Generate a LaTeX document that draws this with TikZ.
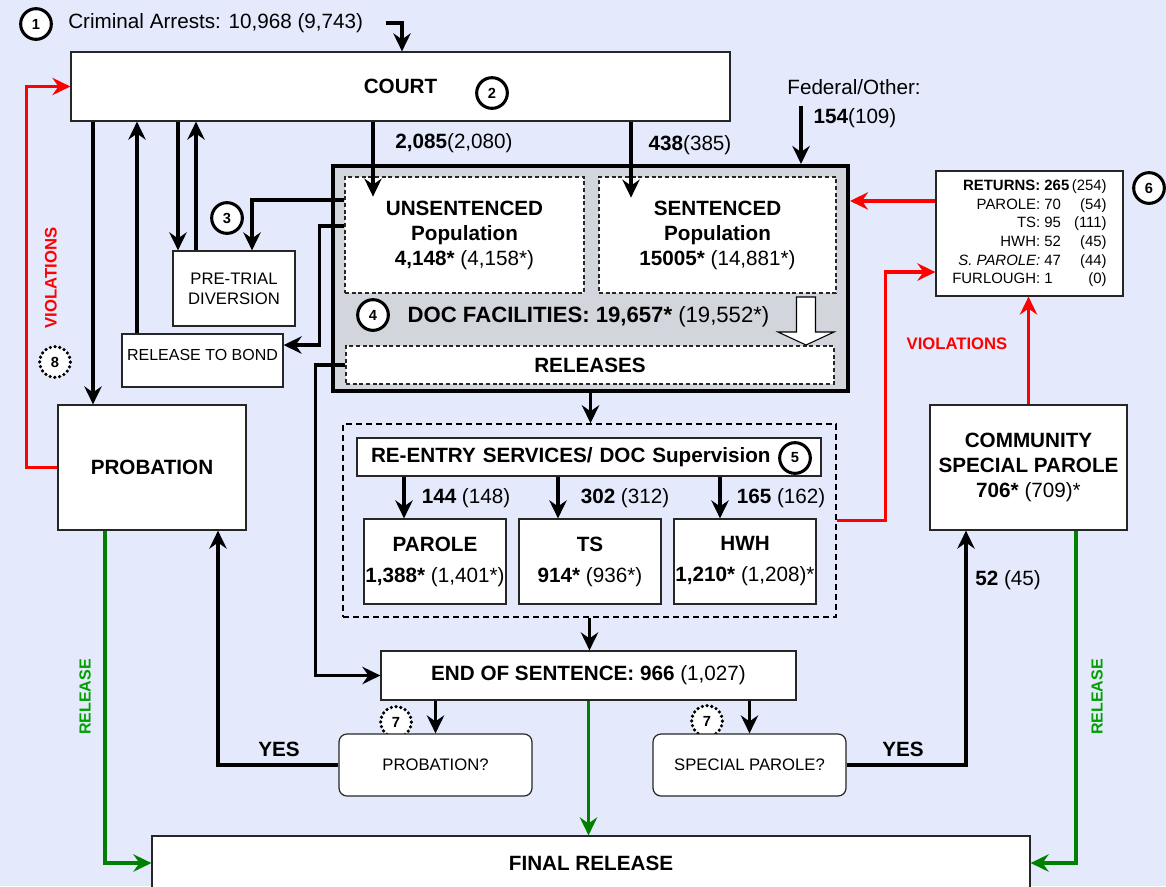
\documentclass[tikz,border=0pt]{standalone}
\usepackage{fontspec}
\setmainfont{Liberation Sans}
\usetikzlibrary{arrows.meta}
\definecolor{bg}{RGB}{228,233,252}
\definecolor{docgray}{RGB}{211,213,220}
\definecolor{violred}{RGB}{255,0,0}
\definecolor{relgreen}{RGB}{0,128,0}
\definecolor{reltext}{RGB}{0,160,0}
\newcommand{\prior}[1]{{\mdseries #1}}
\begin{document}
\begin{tikzpicture}[x=.75pt,y=-.75pt,>={Stealth[length=13.5pt,width=13pt,inset=4.5pt]},
	box/.style={draw=black!85,line width=.9pt,fill=white,inner sep=0pt},
	dbox/.style={box,dash pattern=on 3pt off 2pt},
	big/.style={font=\fontsize{15.5}{18.75}\selectfont\bfseries,align=center},
	small/.style={font=\fontsize{12.5}{15}\selectfont,align=center},
	num/.style={circle,draw,line width=2.3pt,fill=white,minimum size=23pt,inner sep=0pt,font=\fontsize{11}{12}\selectfont\bfseries},
	dnum/.style={num,dash pattern=on 0pt off 3.6pt,line cap=round,line width=2.7pt},
	flow/.style={->,line width=2.5pt},
	viol/.style={flow,draw=violred},
	rel/.style={->,line width=2.3pt,draw=relgreen},
	vlab/.style={font=\fontsize{12.5}{15}\selectfont\bfseries,text=violred},
	rlab/.style={font=\fontsize{12}{15}\selectfont\bfseries,text=reltext,rotate=90}]
	\path[use as bounding box,fill=bg] (0,0) rectangle (1166,886);
	% arrests and court
	\node[num] (n1) at (36,24) {1};
	\node[anchor=west,inner sep=0pt,font=\fontsize{15.5}{18}\selectfont] (arrests) at (68,23) {Criminal Arrests: 10,968 (9,743)};
	\node[box,big,minimum width=494.25pt,minimum height=51.75pt] (court) at (400.5,86.5) {COURT};
	\node[num] (n2) at (492,93) {2};
	\node[big] (l2085) at (454,143) {2,085\prior{(2,080)}};
	\node[big] (l438) at (690,145) {438\prior{(385)}};
	\node[font=\fontsize{15.5}{18}\selectfont] (fed) at (854,87) {Federal/Other:};
	\node[big] (fedn) at (855,118) {154\prior{(109)}};
	\coordinate (fedarr) at (801,106);
	% doc facilities
	\node[draw,line width=3pt,fill=docgray,minimum width=386.25pt,minimum height=168.75pt] (doc) at (590.5,278.5) {};
	\node[dbox,big,minimum width=179.25pt,minimum height=87pt] (unsent) at (464.5,235) {UNSENTENCED\\Population\\4,148* \prior{(4,158*)}};
	\node[dbox,big,minimum width=177.75pt,minimum height=87pt] (sent) at (717.5,235) {SENTENCED\\Population\\15005* \prior{(14,881*)}};
	\node[num] (n4) at (373,315) {4};
	\node[big,font=\fontsize{16.6}{20}\selectfont\bfseries] (docf) at (588.5,317) {DOC FACILITIES: 19,657* \prior{(19,552*)}};
	\node[dbox,big,minimum width=366pt,minimum height=28.5pt] (releases) at (590,365) {RELEASES};
	\draw[fill=white,line width=.8pt] (796.5,297) -- (815.5,297) -- (815.5,332) -- (834,332) -- (806,345) -- (778,332) -- (796.5,332) -- cycle;
	% left side
	\node[box,small,minimum width=91.5pt,minimum height=56.25pt] (pretrial) at (234,288.5) {PRE-TRIAL\\DIVERSION};
	\node[num] (n3) at (227,218) {3};
	\node[box,font=\fontsize{12}{14}\selectfont,minimum width=120.75pt,minimum height=39.75pt,text depth=8pt] (bond) at (202.5,360.5) {RELEASE TO BOND};
	\node[box,big,minimum width=141pt,minimum height=93.75pt] (probation) at (152,467.5) {PROBATION};
	\node[dnum] (n8) at (55,362) {8};
	\node[vlab,rotate=90] (violl) at (51,278) {VIOLATIONS};
	% re-entry
	\node[draw,line width=1.1pt,dash pattern=on 4.5pt off 3pt,minimum width=369.75pt,minimum height=144.75pt] (reentry) at (589.5,520.5) {};
	\node[box,big,align=left,minimum width=348pt,minimum height=28.5pt,text width=327pt,inner xsep=10.5pt] (header) at (589,457) {RE-ENTRY SERVICES/ DOC Supervision};
	\node[num] (n5) at (795,458) {5};
	\node[box,big,minimum width=106.5pt,minimum height=63.75pt] (parole) at (435,561.5) {PAROLE\\[4.5pt]1,388* \prior{(1,401*)}};
	\node[box,big,minimum width=106.5pt,minimum height=63.75pt] (ts) at (590,561.5) {TS\\[4.5pt]914* \prior{(936*)}};
	\node[box,big,minimum width=106.5pt,minimum height=63.75pt] (hwh) at (745,561.5) {HWH\\[4.5pt]1,210* \prior{(1,208)*}};
	\node[big] (l144) at (466,498) {144 \prior{(148)}};
	\node[big] (l302) at (625,498) {302 \prior{(312)}};
	\node[big] (l165) at (781,498) {165 \prior{(162)}};
	% right side
	\node[box,minimum width=140.25pt,minimum height=93.75pt,font=\fontsize{11.2}{14}\selectfont] (returns) at (1029.5,233.5) {\begin{tabular}{@{}r@{ }l@{\,}r@{}}
		\textbf{RETURNS:} & \textbf{265} & (254)\\
		PAROLE: & 70 & (54)\\
		TS: & 95 & (111)\\
		HWH: & 52 & (45)\\
		\textit{S. PAROLE:} & 47 & (44)\\
		FURLOUGH: & 1 & (0)
	\end{tabular}};
	\node[num] (n6) at (1149,188) {6};
	\node[box,big,minimum width=147.75pt,minimum height=93.75pt] (csp) at (1028.5,467.5) {COMMUNITY\\SPECIAL PAROLE\\706* \prior{(709)*}};
	\node[vlab] (violr) at (957,344) {VIOLATIONS};
	\node[big] (l52) at (1008,580) {52 \prior{(45)}};
	% bottom
	\node[box,big,minimum width=311.25pt,minimum height=36.75pt] (endsent) at (588.5,675.5) {END OF SENTENCE: 966 \prior{(1,027)}};
	\node[dnum] (n7a) at (396,722) {7};
	\node[dnum] (n7b) at (707,721) {7};
	\node[box,small,rounded corners=6pt,minimum width=144.75pt,minimum height=46.5pt] (probq) at (435.5,765) {PROBATION?};
	\node[box,small,rounded corners=6pt,minimum width=144.75pt,minimum height=46.5pt] (spq) at (749.5,765) {SPECIAL PAROLE?};
	\node[big] (yesl) at (279,749) {YES};
	\node[big] (yesr) at (903,749) {YES};
	\node[box,big,minimum width=658.5pt,minimum height=40.5pt] (final) at (591,863) {FINAL RELEASE};
	\node[rlab] (rell) at (85,697) {RELEASE};
	\node[rlab] (relr) at (1097,697) {RELEASE};
	% connectors
	\draw[flow] ([xshift=17pt]arrests.east) -| (402,0 |- court.north);
	\draw[flow] (93,0 |- court.south) -- (93,0 |- probation.north);
	\draw[flow] (137,0 |- bond.north) -- (137,0 |- court.south);
	\draw[flow] (178,0 |- court.south) -- (178,0 |- pretrial.north);
	\draw[flow] (196,0 |- pretrial.north) -- (196,0 |- court.south);
	\draw[flow] (373,0 |- court.south) -- ++(0,75);
	\draw[flow] (631,0 |- court.south) -- ++(0,76);
	\draw[flow] (fedarr) -- (fedarr |- doc.north);
	\draw[flow] (unsent.west |- 0,200) -| ([xshift=13.5pt]pretrial.north);
	\draw[flow] (unsent.west |- 0,226) -- ++(-25,0) |- ([yshift=11.6pt]bond.east);
	\draw[flow] (releases.west) -- ++(-30,0) |- (endsent.west);
	\draw[viol] (probation.west) -- ++(-31,0) |- (court.west);
	\draw[flow] (doc.south) -- (doc.south |- reentry.north);
	\foreach \bx/\dx in {parole/-31,ts/-32,hwh/-25}
		\draw[flow] ([xshift=\dx*.75pt]\bx.north |- header.south) -- ([xshift=\dx*.75pt]\bx.north);
	\draw[flow] (reentry.south) -- (reentry.south |- endsent.north);
	\draw[viol] (reentry.east) -- ++(49,0) |- ([yshift=-28.9pt]returns.west);
	\draw[viol] ([yshift=24.4pt]returns.west) -- ([yshift=24.4pt]returns.west -| doc.east);
	\draw[viol] (csp.north) -- (csp.north |- returns.south);
	\draw[rel] (105,0 |- probation.south) |- (final.west);
	\draw[rel] (1076,0 |- csp.south) |- (final.east);
	\draw[rel] (endsent.south) -- (endsent.south |- final.north);
	\draw[flow] (probq.north |- endsent.south) -- (probq.north);
	\draw[flow] (spq.north |- endsent.south) -- (spq.north);
	\draw[flow] (probq.west) -| ([xshift=49.5pt]probation.south);
	\draw[flow] (spq.east) -| ([xshift=-46.9pt]csp.south);
\end{tikzpicture}
\end{document}
